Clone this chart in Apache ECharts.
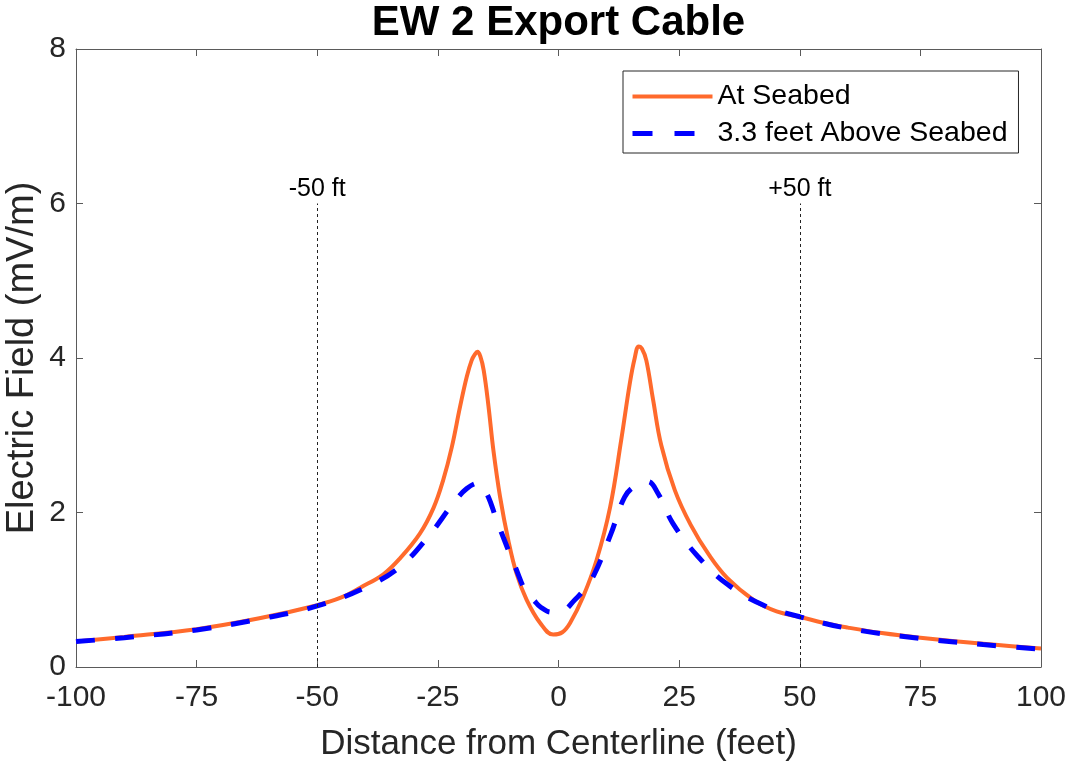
<!DOCTYPE html>
<html>
<head>
<meta charset="utf-8">
<script src="https://cdn.jsdelivr.net/npm/echarts@6/dist/echarts.min.js"></script>
<style>html,body{margin:0;padding:0;background:#fff}#c{width:1067px;height:761px}</style>
</head>
<body>
<div id="c"></div>
<script>
const titleText = 'EW 2 Export Cable';
const xName = 'Distance from Centerline (feet)';
const yName = 'Electric Field (mV/m)';
const seriesNames = ['At Seabed', '3.3 feet Above Seabed'];
const refLines = [-50, 50];
const refLabels = ['-50 ft', '+50 ft'];
const refTop = 6;

const distSeabed = [-100,-90,-75,-62,-50,-45,-41,-36.3,-32.8,-28.7,-25.9,-23.9,-22.1,-20.4,-19.0,-18.0,-17.3,-16.8,-16.2,-15.5,-14.5,-13.5,-12.1,-10.4,-8.7,-6.6,-3.8,-1.1,0.8,2.4,5.1,7.9,10.7,13.0,14.8,15.8,16.6,17.3,18.2,19.6,21.3,24.1,27.4,31.2,35,40.4,45.2,50,55,60,67,75,88,100];
const fieldSeabed = [0.33,0.39,0.49,0.63,0.80,0.90,1.03,1.20,1.41,1.73,2.06,2.42,2.85,3.37,3.76,3.97,4.05,4.08,4.02,3.84,3.37,2.81,2.20,1.64,1.21,0.87,0.57,0.42,0.45,0.57,0.91,1.385,2.07,2.94,3.68,4.00,4.15,4.12,3.97,3.46,2.87,2.29,1.84,1.45,1.15,0.87,0.72,0.65,0.57,0.51,0.44,0.38,0.30,0.24];

const distAbove = [-100,-90,-75,-62,-50,-40,-32.8,-26.6,-21.8,-19,-16.6,-14.9,-12.8,-10.7,-9.0,-6.6,-5.2,-3.8,-1.5,0.6,3.4,5.5,7.5,10.9,13.7,16,18.5,20.6,23.7,28.9,35,42.5,50,60,75,88,100];
const fieldAbove = [0.33,0.38,0.48,0.62,0.79,1.03,1.30,1.72,2.12,2.31,2.38,2.25,1.90,1.56,1.30,0.95,0.87,0.78,0.71,0.72,0.87,1.02,1.21,1.73,2.20,2.35,2.40,2.25,1.86,1.43,1.07,0.80,0.65,0.50,0.37,0.29,0.23];

const xTicks = [-100,-75,-50,-25,0,25,50,75,100];
const yTicks = [0,2,4,6,8];

const FONT = '"Liberation Sans", Arial, sans-serif';
const axisCol = '#5a5a5a';
const txtCol = '#262626';
const orange = '#FF6A2C';
const blue = '#0000FF';

const zip = (a, b) => a.map((v, i) => [v, b[i]]);

const GRID = {left: 76, right: 26, top: 49, bottom: 94};

const chart = echarts.init(document.getElementById('c'), null, {renderer: 'canvas'});

const baseX = {
  type: 'value', min: xTicks[0], max: xTicks[xTicks.length-1], interval: 25,
  splitLine: {show: false},
  axisLine: {show: true, onZero: false, lineStyle: {color: axisCol, width: 1}},
  axisTick: {show: true, inside: true, length: 7, lineStyle: {color: axisCol}},
};
const baseY = {
  type: 'value', min: yTicks[0], max: yTicks[yTicks.length-1], interval: 2,
  splitLine: {show: false},
  axisLine: {show: true, onZero: false, lineStyle: {color: axisCol, width: 1}},
  axisTick: {show: true, inside: true, length: 7, lineStyle: {color: axisCol}},
};

chart.setOption({
  animation: false,
  backgroundColor: '#fff',
  graphic: [{
    type: 'text',
    x: GRID.left + (1067 - GRID.left - GRID.right) / 2, y: 2,
    style: {
      text: titleText, textAlign: 'center', textVerticalAlign: 'top',
      font: 'bold 42px "Liberation Sans", Arial, sans-serif', fill: '#000'
    }
  }],
  legend: {
    orient: 'vertical', left: 623, top: 71,
    padding: [11, 11, 5, 7], itemGap: 8,
    itemWidth: 80, itemHeight: 14,
    borderColor: '#262626', borderWidth: 1, backgroundColor: '#fff',
    itemStyle: {opacity: 0},
    textStyle: {fontFamily: FONT, fontSize: 28.5, color: '#000'},
    data: [
      {name: seriesNames[0], lineStyle: {width: 4, color: orange}},
      {name: seriesNames[1], lineStyle: {width: 5, color: blue, type: [20, 22]}}
    ]
  },
  grid: Object.assign({containLabel: false, outerBoundsMode: 'none'}, GRID),
  xAxis: [
    Object.assign({}, baseX, {
      position: 'bottom',
      name: xName, nameLocation: 'middle', nameGap: 60, nameMoveOverlap: false,
      nameTextStyle: {fontFamily: FONT, fontSize: 35, color: txtCol},
      axisLabel: {fontFamily: FONT, fontSize: 30, color: txtCol, margin: 16}
    }),
    Object.assign({}, baseX, {position: 'top', axisLabel: {show: false}})
  ],
  yAxis: [
    Object.assign({}, baseY, {
      position: 'left',
      name: yName, nameLocation: 'middle', nameGap: 34, nameMoveOverlap: false,
      nameTextStyle: {fontFamily: FONT, fontSize: 38, color: txtCol},
      axisLabel: {fontFamily: FONT, fontSize: 30, color: txtCol, margin: 10}
    }),
    Object.assign({}, baseY, {position: 'right', axisLabel: {show: false}})
  ],
  series: [
    {
      name: seriesNames[0], type: 'line', data: zip(distSeabed, fieldSeabed),
      symbol: 'none', smooth: 0.4, z: 3,
      lineStyle: {color: orange, width: 4},
      itemStyle: {color: orange},
      markLine: {
        silent: true, symbol: ['none', 'none'],
        lineStyle: {color: '#222', width: 1, type: [3, 3]},
        label: {position: 'end', fontFamily: FONT, fontSize: 25, color: '#000', distance: 2},
        data: refLines.map((v, i) => [
          {coord: [v, 0], label: {formatter: refLabels[i]}},
          {coord: [v, refTop]}
        ])
      }
    },
    {
      name: seriesNames[1], type: 'line', data: zip(distAbove, fieldAbove),
      symbol: 'none', smooth: 0.4, z: 4,
      lineStyle: {color: blue, width: 5, type: [19, 20]},
      itemStyle: {color: blue}
    }
  ]
});
</script>
</body>
</html>
